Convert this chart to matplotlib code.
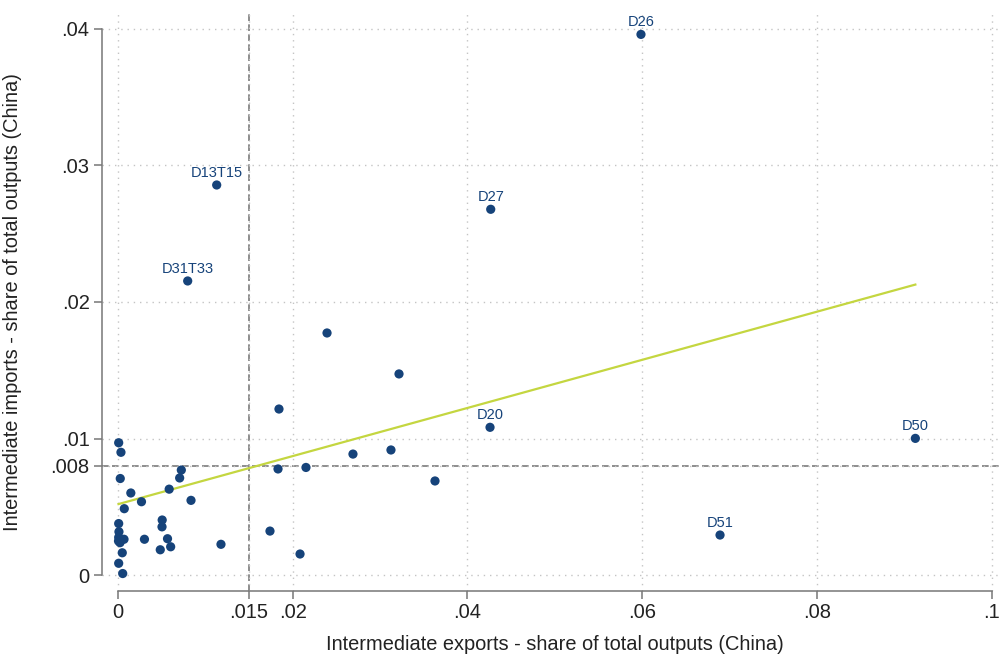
"""Scatter of intermediate imports vs exports (China) with fit line and reference lines."""
import matplotlib
matplotlib.use("Agg")
import matplotlib.pyplot as plt
import numpy as np

plt.rcParams["font.family"] = ["Liberation Sans", "DejaVu Sans"]

# labelled sectors
label_names = ["D26", "D13T15", "D27", "D31T33", "D20", "D50", "D51"]
label_x = [0.05987, 0.01130, 0.04267, 0.00798, 0.04259, 0.09128, 0.06892]
label_y = [0.03960, 0.02857, 0.02679, 0.02154, 0.01082, 0.01001, 0.00293]

# unlabelled sectors
other_x = [0.02393, 0.03217, 0.01843, 0.02690, 0.03125, 0.01832, 0.02152, 0.03629,
           0.01740, 0.02084, 0.01179,
           0.00008, 0.00034, 0.00026, 0.00725, 0.00706, 0.00586, 0.00147, 0.00269,
           0.00836, 0.00072, 0.00506, 0.00504, 0.00008, 0.00011, 0.00008, 0.00069,
           0.00023, 0.00006, 0.00303, 0.00567, 0.00484, 0.00603, 0.00049, 0.00008,
           0.00054]
other_y = [0.01773, 0.01473, 0.01216, 0.00886, 0.00916, 0.00777, 0.00788, 0.00689,
           0.00322, 0.00154, 0.00225,
           0.00969, 0.00899, 0.00707, 0.00769, 0.00711, 0.00629, 0.00601, 0.00537,
           0.00547, 0.00486, 0.00403, 0.00353, 0.00377, 0.00317, 0.00276, 0.00262,
           0.00237, 0.00249, 0.00262, 0.00266, 0.00185, 0.00207, 0.00163, 0.00086,
           0.00011]

x_line = 0.015
y_line = 0.008

x_ticks = [0, 0.015, 0.02, 0.04, 0.06, 0.08, 0.1]
x_ticklabels = ["0", ".015", ".02", ".04", ".06", ".08", ".1"]
y_ticks = [0, 0.008, 0.01, 0.02, 0.03, 0.04]
y_ticklabels = ["0", ".008", ".01", ".02", ".03", ".04"]

NAVY = "#16437a"
AXIS = "#777777"

fig = plt.figure(figsize=(10, 6.55), dpi=100)
ax = fig.add_axes([0.102, 0.0977, 0.898, 0.8825])

all_x = np.array(label_x + other_x)
all_y = np.array(label_y + other_y)

ax.set_xlim(-0.00183, 0.10097)
ax.set_ylim(-0.00117, 0.04117)

ax.set_xticks(x_ticks)
ax.set_xticklabels(x_ticklabels)
ax.set_yticks(y_ticks)
ax.set_yticklabels(y_ticklabels)
ax.grid(True, color="#c4c4c4", linestyle=(0, (1, 3.5)), linewidth=1.0, zorder=0)

ax.axvline(x_line, color="#7a7a7a", linestyle=(0, (4, 2)), linewidth=1.2, zorder=1)
ax.axhline(y_line, color="#7a7a7a", linestyle=(0, (4, 2)), linewidth=1.2, zorder=1)

# linear fit over the data range
slope, intercept = np.polyfit(all_x, all_y, 1)
xs = np.array([all_x.min(), all_x.max()])
ax.plot(xs, intercept + slope * xs, color="#c4d640", linewidth=1.6, zorder=2)

ax.scatter(all_x, all_y, s=44, color=NAVY, edgecolors="none", zorder=3)
for name, x, y in zip(label_names, label_x, label_y):
    ax.annotate(name, (x, y), xytext=(0, 6), textcoords="offset points",
                ha="center", va="baseline", fontsize=10.5, color=NAVY, zorder=4)

for side in ["top", "right"]:
    ax.spines[side].set_visible(False)
ax.spines["left"].set_bounds(0, 0.04)
ax.spines["bottom"].set_bounds(0, 0.1)
for side in ["left", "bottom"]:
    ax.spines[side].set_color(AXIS)
    ax.spines[side].set_linewidth(1.1)
ax.tick_params(axis="both", direction="out", length=5.5, width=1.1, color=AXIS,
               labelsize=14.5, labelcolor="#222222")
ax.tick_params(axis="x", pad=3)
ax.tick_params(axis="y", pad=3.5)

fig.text(0.555, 0.0155, "Intermediate exports - share of total outputs (China)",
         ha="center", va="center", fontsize=14.4, color="#222222")
fig.text(0.0125, 0.539, "Intermediate imports - share of total outputs (China)",
         ha="center", va="center", rotation=90, fontsize=14.4, color="#222222")

fig.savefig("out.png", dpi=100)
